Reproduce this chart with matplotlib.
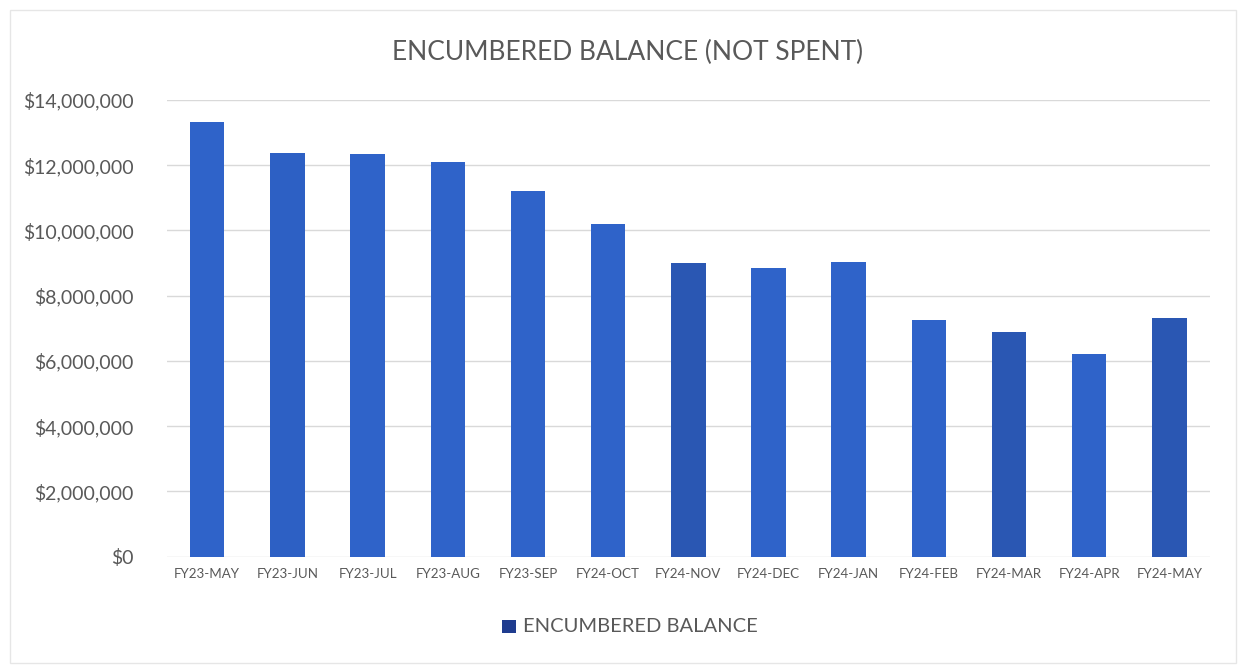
import matplotlib.pyplot as plt
from matplotlib.ticker import FuncFormatter
from matplotlib.patches import Rectangle

plt.rcParams['font.family'] = ['Lato', 'DejaVu Sans']

months = ['FY23-MAY', 'FY23-JUN', 'FY23-JUL', 'FY23-AUG', 'FY23-SEP', 'FY24-OCT',
          'FY24-NOV', 'FY24-DEC', 'FY24-JAN', 'FY24-FEB', 'FY24-MAR', 'FY24-APR', 'FY24-MAY']
balance = [13330000, 12370000, 12350000, 12100000, 11210000, 10200000,
           9000000, 8850000, 9020000, 7260000, 6900000, 6210000, 7330000]
bar_colors = ['#2f63c9', '#2d60c4', '#2f63c9', '#2f63c9', '#2f63c9', '#2f63c9',
              '#2a57b3', '#2f63c9', '#2f63c9', '#2f63c9', '#2a57b3', '#2f63c9', '#2a57b3']

grey = '#595959'

fig = plt.figure(figsize=(12.38, 6.70), dpi=100)
ax = fig.add_axes([0.135, 0.169, 0.842, 0.682])

x = range(len(months))
ax.bar(x, balance, width=0.43, color=bar_colors, zorder=3)

ax.set_xlim(-0.5, len(months) - 0.5)
ax.set_ylim(0, 14000000)
ax.set_yticks(range(0, 14000001, 2000000))
ax.yaxis.set_major_formatter(FuncFormatter(lambda v, p: '${:,.0f}'.format(v)))
ax.set_xticks(list(x))
ax.set_xticklabels(months, fontsize=9.6, color=grey)
ax.tick_params(axis='y', labelsize=14, colors=grey, length=0, pad=24)
ax.tick_params(axis='x', length=0, pad=8)
ax.grid(axis='y', color='#d9d9d9', linewidth=1, zorder=0)
for s in ax.spines.values():
    s.set_visible(False)

fig.text(0.507, 0.922, 'ENCUMBERED BALANCE (NOT SPENT)', ha='center', va='center',
         fontsize=19, color=grey)

# legend
fig.patches.append(Rectangle((0.4055, 0.055), 0.0113, 0.02, transform=fig.transFigure,
                             facecolor='#1f3c8f', edgecolor='none'))
fig.text(0.4225, 0.065, 'ENCUMBERED BALANCE', ha='left', va='center', fontsize=14.5, color=grey)

fig.patches.append(Rectangle((0.008, 0.01), 0.99, 0.975, transform=fig.transFigure,
                             facecolor='none', edgecolor='#e6e6e6', linewidth=1))

fig.savefig('out.png', dpi=100, facecolor='white')
